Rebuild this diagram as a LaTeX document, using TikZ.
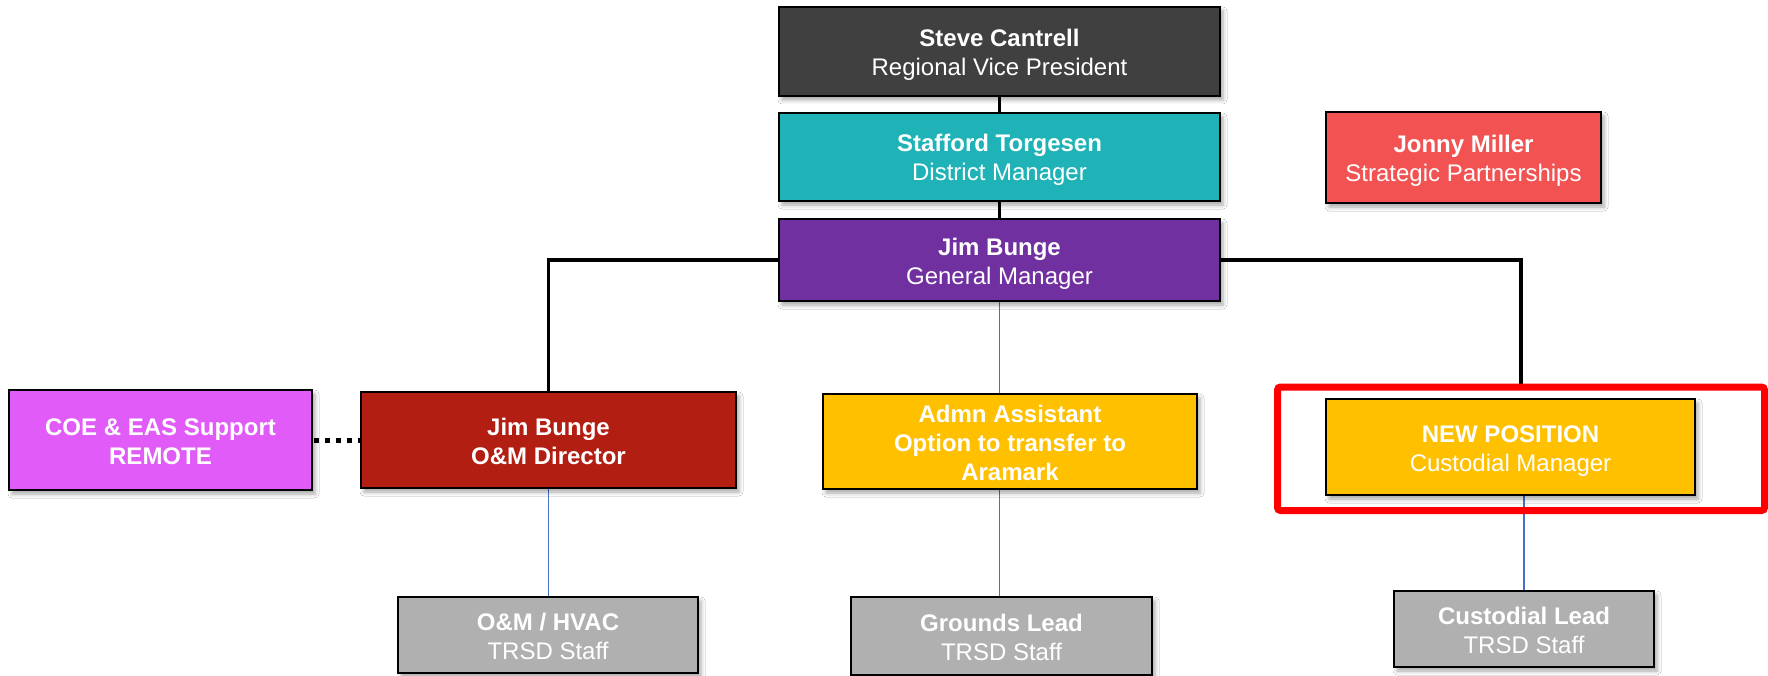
\documentclass[tikz,border=0pt]{standalone}
\usepackage{fontspec}
\setmainfont{Liberation Sans}
\usetikzlibrary{shadows.blur,backgrounds}

\definecolor{rvpgray}{HTML}{404040}
\definecolor{dmteal}{HTML}{1FB2B6}
\definecolor{gmpurple}{HTML}{7030A0}
\definecolor{spcoral}{HTML}{F25252}
\definecolor{remotepink}{HTML}{E15BF9}
\definecolor{omred}{HTML}{B31E13}
\definecolor{amber}{HTML}{FFC000}
\definecolor{staffgray}{HTML}{B0B0B0}
\definecolor{reportblue}{HTML}{4472C4}
\definecolor{flagred}{HTML}{FF0000}

% struts so that every text block is centred on full line metrics
\newcommand{\ts}{\rule{0pt}{24pt}}
\newcommand{\bs}{\rule[-5pt]{0pt}{5pt}}

\tikzset{
  orgbox/.style={draw=black, line width=2.5pt, text=white, align=center,
    inner sep=0pt, outer sep=0pt,
    font=\fontsize{24}{29}\selectfont,
    blur shadow={shadow xshift=3pt, shadow yshift=-4pt,
      shadow blur radius=4pt, shadow opacity=35}},
  link/.style={draw=black, line width=3.5pt},
  sublink/.style={draw=reportblue, line width=1.5pt},
  dotlink/.style={draw=black, line width=5pt, dash pattern=on 5pt off 6pt},
}

\begin{document}
\begin{tikzpicture}[x=1pt,y=-1pt]
\useasboundingbox (0,0) rectangle (1768,676);

% top chain
\node[orgbox, fill=rvpgray, minimum width=441pt, minimum height=89pt] (steve) at (999.5,51.5)
  {\ts\textbf{Steve Cantrell}\\Regional Vice President\bs};
\node[orgbox, fill=dmteal, minimum width=441pt, minimum height=88pt] (stafford) at (999.5,157)
  {\ts\textbf{Stafford Torgesen}\\District Manager\bs};
\node[orgbox, fill=gmpurple, minimum width=441pt, minimum height=82pt] (gm) at (999.5,260)
  {\ts\textbf{Jim Bunge}\\General Manager\bs};
\node[orgbox, fill=spcoral, minimum width=275pt, minimum height=91pt] (jonny) at (1463.5,157.5)
  {\ts\textbf{Jonny Miller}\\Strategic Partnerships\bs};

% second level
\node[orgbox, fill=remotepink, minimum width=303pt, minimum height=100pt] (coe) at (160.5,440)
  {\ts\textbf{COE \& EAS Support}\\\textbf{REMOTE}\bs};
\node[orgbox, fill=omred, minimum width=375pt, minimum height=96pt] (omd) at (548.5,440)
  {\ts\textbf{Jim Bunge}\\\textbf{O\&M Director}\bs};
\node[orgbox, fill=amber, minimum width=374pt, minimum height=95pt] (admn) at (1010,441.5)
  {\ts\textbf{Admn Assistant}\\\textbf{Option to transfer to}\\\textbf{Aramark}\bs};
\node[orgbox, fill=amber, minimum width=369pt, minimum height=96pt] (newpos) at (1510.5,447)
  {\ts\textbf{NEW POSITION}\\Custodial Manager\bs};

% highlight frame around the new position
\node[draw=flagred, line width=7pt, rounded corners=3pt, inner sep=0pt,
  minimum width=487pt, minimum height=123.5pt] (focus) at (1521,448.75) {};

% staff level
\node[orgbox, fill=staffgray, minimum width=300pt, minimum height=76pt] (hvac) at (548,635)
  {\ts\textbf{O\&M / HVAC}\\TRSD Staff\bs};
\node[orgbox, fill=staffgray, minimum width=301pt, minimum height=78pt] (grounds) at (1001.5,636)
  {\ts\textbf{Grounds Lead}\\TRSD Staff\bs};
\node[orgbox, fill=staffgray, minimum width=260pt, minimum height=76pt] (custlead) at (1524,629)
  {\ts\textbf{Custodial Lead}\\TRSD Staff\bs};

% connectors behind the boxes
\begin{pgfonlayer}{background}
  \fill[white] (0,0) rectangle (1768,676);
  \draw[link] (steve.south) -- (stafford.north);
  \draw[link] (stafford.south) -- (gm.north);
  \draw[link] (gm.west) -| (omd.north);
  \draw[link] (gm.east) -| (focus.north);
  \draw[sublink] (gm.south) -- (gm.south |- grounds.north);
  \draw[sublink] (omd.south) -- (omd.south |- hvac.north);
  \draw[sublink] (custlead.north) -- (custlead.north |- newpos.south);
  \draw[dotlink] ([xshift=2pt]coe.east) -- (omd.west);
\end{pgfonlayer}
\end{tikzpicture}
\end{document}
